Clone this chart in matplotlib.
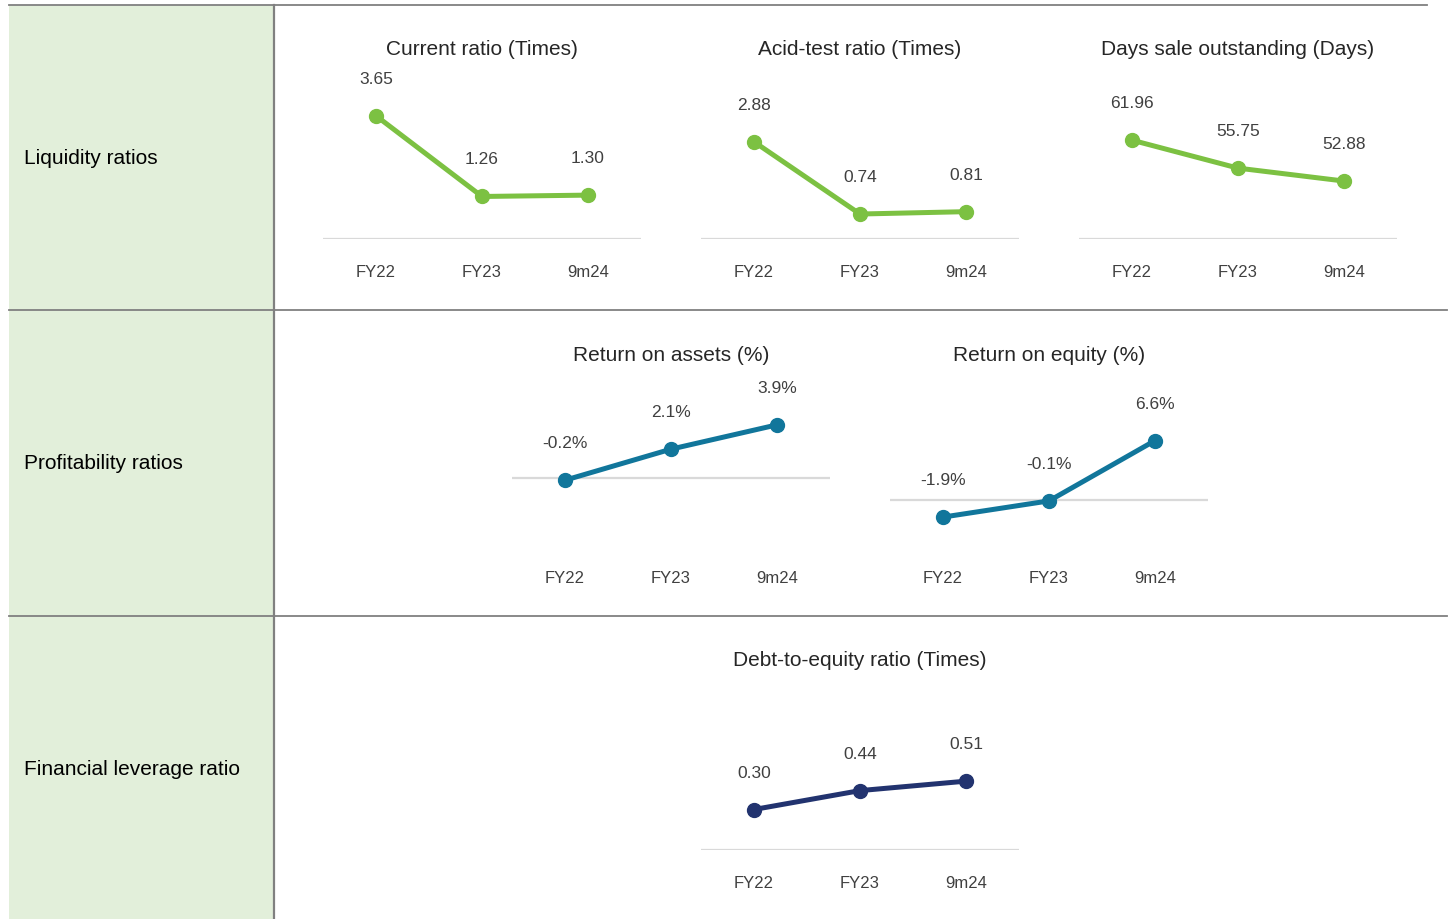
import matplotlib
matplotlib.use("Agg")
import matplotlib.pyplot as plt
from matplotlib.patches import Rectangle

plt.rcParams['font.family'] = ['Liberation Sans', 'DejaVu Sans']

# ---- data -------------------------------------------------------------
categories = ["FY22", "FY23", "9m24"]

current_ratio = [3.65, 1.26, 1.30]
acid_test_ratio = [2.88, 0.74, 0.81]
days_sales_outstanding = [61.96, 55.75, 52.88]
return_on_assets = [-0.2, 2.1, 3.9]
return_on_equity = [-1.9, -0.1, 6.6]
debt_to_equity = [0.30, 0.44, 0.51]

row_labels = ["Liquidity ratios", "Profitability ratios", "Financial leverage ratio"]

# ---- styling ------------------------------------------------------------
GREEN = "#7cc142"
TEAL = "#11769b"
NAVY = "#22336f"
PANEL = "#e2efda"
RULE = "#808080"
GRID = "#d9d9d9"
LABEL = "#404040"

W, H = 1454, 920
fig = plt.figure(figsize=(W / 100, H / 100), dpi=100)

# table frame drawn in pixel coordinates
bg = fig.add_axes([0, 0, 1, 1])
bg.set_xlim(0, W)
bg.set_ylim(H, 0)
bg.axis("off")
bg.add_patch(Rectangle((9, 6), 265, H - 6, facecolor=PANEL, edgecolor="none"))
bg.plot([9, 1427], [6, 6], color=RULE, lw=1.3)
bg.plot([9, 1447], [311, 311], color=RULE, lw=1.3)
bg.plot([9, 1447], [617, 617], color=RULE, lw=1.3)
bg.plot([274, 274], [6, H], color=RULE, lw=1.6)

row_centers = [159, 464, 770]
for label, yc in zip(row_labels, row_centers):
    bg.text(24, yc, label, fontsize=15, color="black", va="center", ha="left")

PLOT_W, PLOT_H = 318, 135

# title, values, label format, y-range, colour, plot-area left / bottom (px)
charts = [
    ("Current ratio (Times)", current_ratio, "{:.2f}", (0, 4), GREEN, 323, 240),
    ("Acid-test ratio (Times)", acid_test_ratio, "{:.2f}", (0, 4), GREEN, 701, 240),
    ("Days sale outstanding (Days)", days_sales_outstanding, "{:.2f}", (40, 70), GREEN, 1079, 240),
    ("Return on assets (%)", return_on_assets, "{:.1f}%", (-5, 5), TEAL, 512, 546),
    ("Return on equity (%)", return_on_equity, "{:.1f}%", (-5, 10), TEAL, 890, 546),
    ("Debt-to-equity ratio (Times)", debt_to_equity, "{:.2f}", (0, 1), NAVY, 701, 851),
]

x = list(range(len(categories)))
for title, vals, fmt, ylim, color, left, bottom in charts:
    ax = fig.add_axes([left / W, 1 - bottom / H, PLOT_W / W, PLOT_H / H])
    ax.set_facecolor("none")
    ax.set_xlim(-0.5, len(categories) - 0.5)
    ax.set_ylim(*ylim)
    base = 0 if ylim[0] <= 0 <= ylim[1] else ylim[0]
    ax.axhline(base, color=GRID, lw=1.6, zorder=1)
    ax.plot(x, vals, color=color, lw=3.6, marker="o", ms=10,
            solid_capstyle="round", clip_on=False, zorder=3)
    for xi, v in zip(x, vals):
        ax.annotate(fmt.format(v), xy=(xi, v), xytext=(0, 27),
                    textcoords="offset points", ha="center", va="center",
                    fontsize=12.5, color=LABEL)
    ax.annotate(title, xy=(0.5, 1), xycoords="axes fraction",
                xytext=(0, 40), textcoords="offset points",
                ha="center", va="center", fontsize=15, color="#262626")
    for s in ax.spines.values():
        s.set_visible(False)
    ax.set_yticks([])
    ax.set_xticks(x)
    ax.set_xticklabels(categories, fontsize=12, color=LABEL)
    ax.tick_params(axis="x", length=0, pad=18)

fig.savefig("out.png", dpi=100)
